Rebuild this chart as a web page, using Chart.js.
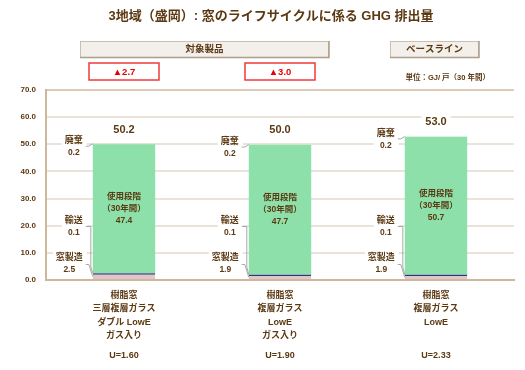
<!DOCTYPE html>
<html>
<head>
<meta charset="utf-8">
<script src="https://cdn.jsdelivr.net/npm/chart.js@4.4.0/dist/chart.umd.min.js"></script>
<style>
  html, body { margin: 0; padding: 0; background: #fff; }
</style>
</head>
<body>
<canvas id="myChart" width="525" height="370"></canvas>
<script>
// data
const categories = [
  ['樹脂窓', '三層複層ガラス', 'ダブル LowE', 'ガス入り'],
  ['樹脂窓', '複層ガラス', 'LowE', 'ガス入り'],
  ['樹脂窓', '複層ガラス', 'LowE']
];
const uValues = ['U=1.60', 'U=1.90', 'U=2.33'];
const manufacture = [2.5, 1.9, 1.9];   // 窓製造
const transport = [0.1, 0.1, 0.1];     // 輸送
const usePhase = [47.4, 47.7, 50.7];   // 使用段階（30年間）
const disposal = [0.2, 0.2, 0.2];      // 廃棄
const totals = [50.2, 50.0, 53.0];
const reductions = [2.7, 3.0, null];
const yTicks = [0, 10, 20, 30, 40, 50, 60, 70];

const BROWN = '#5b3912';
const FONT = '"Liberation Sans", "Noto Sans CJK JP", sans-serif';

function font(size, weight) {
  return (weight || 'bold') + ' ' + size + 'px ' + FONT;
}

function whiteBox(ctx, x1, y1, x2, y2) {
  ctx.fillStyle = '#fff';
  ctx.fillRect(x1, y1, x2 - x1, y2 - y1);
}

const decorations = {
  id: 'decorations',
  afterDatasetsDraw(chart) {
    const { ctx } = chart;
    const y = chart.scales.y;
    const bars = chart.getDatasetMeta(0).data;

    ctx.save();
    ctx.textBaseline = 'middle';
    ctx.textAlign = 'center';

    // title
    ctx.fillStyle = BROWN;
    ctx.font = font(13);
    ctx.fillText('3地域（盛岡）: 窓のライフサイクルに係る GHG 排出量', 271, 16);

    // header boxes
    const headers = [['対象製品', 80, 329], ['ベースライン', 390, 479]];
    headers.forEach(([t, x1, x2]) => {
      ctx.fillStyle = '#f3efea';
      ctx.fillRect(x1, 41, x2 - x1, 17);
      ctx.strokeStyle = '#cbbfb2';
      ctx.lineWidth = 1;
      ctx.strokeRect(x1 + 0.5, 41.5, x2 - x1 - 1, 16);
      ctx.strokeStyle = '#ad9d8b';
      ctx.lineWidth = 1.5;
      ctx.beginPath();
      ctx.moveTo(x1, 57.5); ctx.lineTo(x2, 57.5); ctx.lineTo(x2, 41);
      ctx.stroke();
      ctx.fillStyle = BROWN;
      ctx.font = font(9.5);
      ctx.fillText(t, (x1 + x2) / 2, 49.5);
    });

    // unit
    ctx.font = font(7.5);
    ctx.fillStyle = BROWN;
    ctx.textAlign = 'right';
    ctx.fillText('単位：GJ/ 戸（30 年間）', 490, 78);
    ctx.textAlign = 'center';

    bars.forEach((bar, i) => {
      const cx = bar.x;
      const left = bar.x - bar.width / 2;

      // reduction boxes
      if (reductions[i] !== null) {
        ctx.fillStyle = '#fff';
        ctx.fillRect(cx - 35, 63, 70, 17);
        ctx.strokeStyle = '#f03a3a';
        ctx.lineWidth = 1.5;
        ctx.strokeRect(cx - 35, 63, 70, 17);
        ctx.fillStyle = '#e60000';
        ctx.font = font(9.5);
        ctx.fillText('▲' + reductions[i].toFixed(1), cx, 72);
      }

      // total
      const ty = y.getPixelForValue(totals[i]) - 14;
      ctx.font = font(11);
      const tw = ctx.measureText(totals[i].toFixed(1)).width;
      whiteBox(ctx, cx - tw / 2 - 4, ty - 8, cx + tw / 2 + 4, ty + 8);
      ctx.fillStyle = BROWN;
      ctx.fillText(totals[i].toFixed(1), cx, ty);

      // use phase label inside the bar
      const base = manufacture[i] + transport[i];
      const uy = (y.getPixelForValue(base) + y.getPixelForValue(base + usePhase[i])) / 2;
      ctx.font = font(8.5);
      ctx.fillStyle = BROWN;
      ctx.fillText('使用段階', cx, uy - 12);
      ctx.fillText('（30年間）', cx, uy);
      ctx.fillText(usePhase[i].toFixed(1), cx, uy + 12);

      // side labels with leader lines
      const topPx = y.getPixelForValue(base + usePhase[i] + disposal[i]);
      const side = [
        ['廃棄', disposal[i], topPx - 3],
        ['輸送', transport[i], 221],
        ['窓製造', manufacture[i], 258]
      ];
      side.forEach(([name, val, ny]) => {
        ctx.font = font(9);
        const w = ctx.measureText(name).width;
        const right = left - 10;
        const lx = right - w / 2;
        whiteBox(ctx, right - w - 3, ny - 7, left - 6, ny + 19);
        ctx.fillStyle = BROWN;
        ctx.fillText(name, lx, ny);
        ctx.font = font(8.5);
        ctx.fillText(val.toFixed(1), lx, ny + 12);
      });

      ctx.strokeStyle = '#a8a8a8';
      ctx.lineWidth = 1;
      const mPx = y.getPixelForValue(manufacture[i] / 2);
      const tPx = y.getPixelForValue(manufacture[i] + transport[i]);
      ctx.beginPath();
      ctx.moveTo(left - 7, topPx + 2.5); ctx.lineTo(left - 4, topPx + 2.5); ctx.lineTo(left, topPx);
      ctx.moveTo(left - 7, 226.5); ctx.lineTo(left - 2, 226.5); ctx.lineTo(left - 2, 267); ctx.lineTo(left, tPx);
      ctx.moveTo(left - 7, 264.5); ctx.lineTo(left - 4, 264.5); ctx.lineTo(left, mPx);
      ctx.stroke();

      // U value
      ctx.font = font(9);
      ctx.fillStyle = BROWN;
      ctx.fillText(uValues[i], cx, 356);
    });

    ctx.restore();
  }
};

const data = {
  labels: categories,
  datasets: [
    {
      label: '窓製造',
      data: manufacture,
      backgroundColor: '#e2c5ca',
      borderColor: '#273a78',
      borderWidth: { top: 1.5, bottom: 0, left: 0, right: 0 },
      borderSkipped: false
    },
    { label: '輸送', data: transport, backgroundColor: '#273a78' },
    { label: '使用段階', data: usePhase, backgroundColor: '#8de0a9' },
    { label: '廃棄', data: disposal, backgroundColor: '#b2eac4' }
  ]
};

const options = {
  responsive: false,
  devicePixelRatio: 1,
  animation: false,
  layout: { padding: { top: 90, right: 11, bottom: 0, left: 0 } },
  datasets: { bar: { barPercentage: 0.4, categoryPercentage: 1.0 } },
  plugins: { legend: { display: false }, tooltip: { enabled: false } },
  scales: {
    x: {
      stacked: true,
      grid: { display: false, drawTicks: false },
      border: { display: true, color: '#cdb89c', width: 2 },
      ticks: {
        color: BROWN,
        autoSkip: false,
        maxRotation: 0,
        padding: 8.5,
        font: { family: FONT, size: 9, weight: 'bold', lineHeight: 1.5 }
      },
      afterFit(s) { s.height = 90; }
    },
    y: {
      stacked: true,
      min: yTicks[0],
      max: yTicks[yTicks.length - 1],
      afterBuildTicks(s) { s.ticks = yTicks.map(v => ({ value: v })); },
      ticks: {
        color: BROWN,
        padding: 10,
        callback: v => v.toFixed(1),
        font: { family: FONT, size: 8, weight: 'bold' }
      },
      grid: {
        color: c => (c.tick && c.tick.value === 70 ? '#dccbb6' : '#ebe3d9'),
        lineWidth: 2,
        drawTicks: false
      },
      border: { display: true, color: '#cdb89c', width: 2 },
      afterFit(s) { s.width = 46; }
    }
  }
};

const myChart = new Chart(document.getElementById('myChart'), {
  type: 'bar',
  data: data,
  options: options,
  plugins: [decorations]
});
</script>
</body>
</html>
